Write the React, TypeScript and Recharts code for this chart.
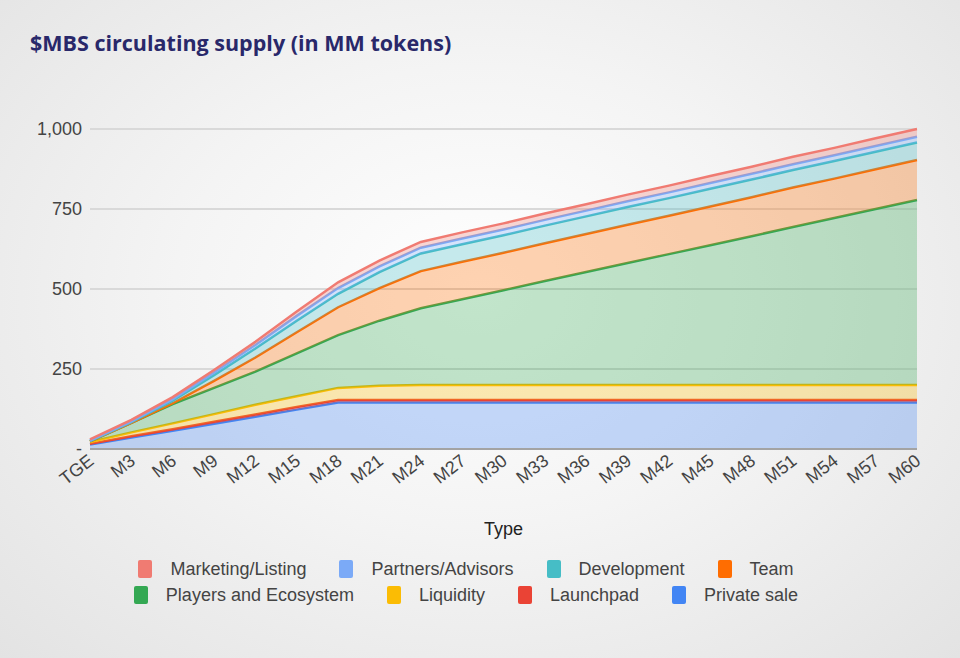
import React from 'react';
import { AreaChart, Area, XAxis, YAxis, CartesianGrid } from 'recharts';

// x categories: token generation event, then every 3 months
const months = [
  'TGE', 'M3', 'M6', 'M9', 'M12', 'M15', 'M18', 'M21', 'M24', 'M27', 'M30',
  'M33', 'M36', 'M39', 'M42', 'M45', 'M48', 'M51', 'M54', 'M57', 'M60',
];

// per-bucket circulating supply, MM tokens (stacked bottom -> top)
const privateSale = [14, 36, 57, 79, 101, 123, 145, 145, 145, 145, 145, 145, 145, 145, 145, 145, 145, 145, 145, 145, 145];
const launchpad = [2, 4, 5, 6, 7, 8, 8, 8, 8, 8, 8, 8, 8, 8, 8, 8, 8, 8, 8, 8, 8];
const liquidity = [6, 12, 18, 24, 30, 34, 38, 45, 47, 47, 47, 47, 47, 47, 47, 47, 47, 47, 47, 47, 47];
const players = [2, 30, 60, 82, 104, 134, 165, 203, 240, 268, 296, 325, 353, 381, 409, 437, 465, 494, 522, 550, 578];
const team = [0, 0, 3, 22, 44, 66, 87, 102, 116, 117, 117, 118, 119, 120, 120, 121, 122, 123, 123, 124, 125];
const development = [1, 2, 8, 18, 28, 36, 42, 50, 55, 55, 55, 55, 55, 55, 55, 55, 55, 55, 55, 55, 55];
const partners = [1, 2, 5, 8, 11, 15, 18, 18, 18, 18, 18, 18, 18, 18, 18, 18, 18, 18, 18, 18, 18];
const marketing = [4, 5, 6, 8, 10, 14, 18, 18, 18, 19, 19, 20, 20, 21, 21, 22, 22, 23, 23, 24, 24];

const yTicks = [0, 250, 500, 750, 1000];

// stacking order, bottom first
const series = [
  { key: 'private', name: 'Private sale', color: '#4285f4', values: privateSale },
  { key: 'launchpad', name: 'Launchpad', color: '#ea4335', values: launchpad },
  { key: 'liquidity', name: 'Liquidity', color: '#fbbc04', values: liquidity },
  { key: 'players', name: 'Players and Ecosystem', color: '#34a853', values: players },
  { key: 'team', name: 'Team', color: '#ff6d01', values: team },
  { key: 'development', name: 'Development', color: '#46bdc6', values: development },
  { key: 'partners', name: 'Partners/Advisors', color: '#7baaf7', values: partners },
  { key: 'marketing', name: 'Marketing/Listing', color: '#f07b72', values: marketing },
];

const data = months.map((m, i) => {
  const row: Record<string, string | number> = { month: m };
  series.forEach(s => { row[s.key] = s.values[i]; });
  return row;
});

const legendRows = [
  ['marketing', 'partners', 'development', 'team'],
  ['players', 'liquidity', 'launchpad', 'private'],
];

const axisFont = '"Liberation Sans", Arial, sans-serif';

const XTick = (props: any) => {
  const { x, y, payload } = props;
  const tx = x + 5;
  const ty = y + 6;
  return (
    <text
      x={tx}
      y={ty}
      textAnchor="end"
      fill="#444"
      fontSize={18}
      fontFamily={axisFont}
      transform={`rotate(-38, ${tx}, ${ty})`}
    >
      {payload.value}
    </text>
  );
};

export default function App() {
  return (
    <div
      style={{
        position: 'absolute',
        left: 0,
        top: 0,
        width: 960,
        height: 658,
        overflow: 'hidden',
        background: 'radial-gradient(ellipse at 50% 45%, #ffffff 0%, #f4f4f4 45%, #e3e3e3 100%)',
      }}
    >
      <div
        style={{
          position: 'absolute',
          left: 30,
          top: 28,
          fontFamily: '"Open Sans", sans-serif',
          fontWeight: 700,
          fontSize: 21.5,
          color: '#29286a',
        }}
      >
        $MBS circulating supply (in MM tokens)
      </div>

      <AreaChart
        width={960}
        height={658}
        data={data}
        margin={{ top: 129, right: 43, left: 0, bottom: 119 }}
      >
        <CartesianGrid vertical={false} stroke="#d9d9d9" strokeWidth={2} />
        <XAxis
          dataKey="month"
          interval={0}
          height={90}
          tick={<XTick />}
          tickLine={false}
          axisLine={{ stroke: '#a3a3a3', strokeWidth: 2 }}
          label={{
            value: 'Type',
            position: 'insideBottom',
            offset: 4,
            fill: '#222',
            fontSize: 18,
            fontFamily: axisFont,
          }}
        />
        <YAxis
          width={90}
          domain={[0, 1000]}
          ticks={yTicks}
          tickLine={false}
          axisLine={false}
          tickFormatter={(v: number) => (v === 0 ? '-' : v.toLocaleString('en-US'))}
          tick={{ fill: '#444', fontSize: 18, fontFamily: axisFont }}
        />
        {series.map(s => (
          <Area
            key={s.key}
            type="linear"
            dataKey={s.key}
            name={s.name}
            stackId="supply"
            stroke={s.color}
            strokeWidth={2.5}
            fill={s.color}
            fillOpacity={0.3}
            isAnimationActive={false}
          />
        ))}
      </AreaChart>

      <div
        style={{
          position: 'absolute',
          left: 0,
          top: 556,
          width: 932,
          fontFamily: axisFont,
          fontSize: 18,
          color: '#444',
        }}
      >
        {legendRows.map((row, ri) => (
          <div
            key={ri}
            style={{ display: 'flex', justifyContent: 'center', gap: 33, height: 26, alignItems: 'center' }}
          >
            {row.map(k => {
              const s = series.find(x => x.key === k)!;
              return (
                <div key={k} style={{ display: 'flex', alignItems: 'center' }}>
                  <span
                    style={{
                      display: 'inline-block',
                      width: 14,
                      height: 18,
                      borderRadius: 2,
                      background: s.color,
                      marginRight: 18,
                    }}
                  />
                  {s.name}
                </div>
              );
            })}
          </div>
        ))}
      </div>
    </div>
  );
}
